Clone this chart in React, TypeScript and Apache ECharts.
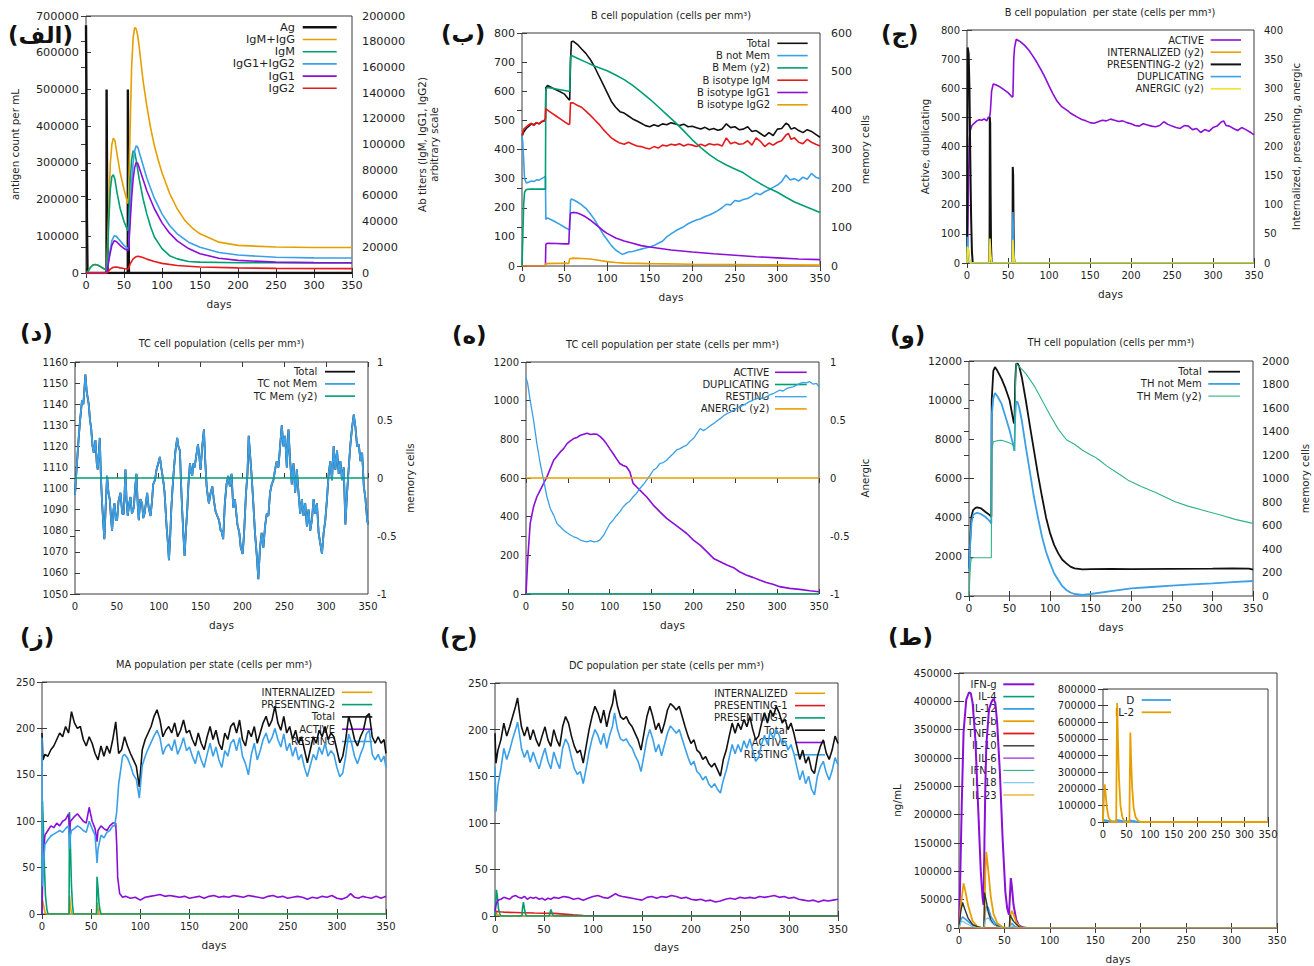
import React, { useEffect, useRef } from "react";
import * as echarts from "echarts";

type Pt = [number, number];

const FONT = "DejaVu Sans";
const AXIS = "#3a3a3a";
const TXT = "#1e1e1e";
const COL = {
  black: "#111111",
  purple: "#8a0fd8",
  green: "#009e73",
  mint: "#2fb387",
  blue: "#3aa0e8",
  lightblue: "#6cc3f0",
  orange: "#e69f00",
  yellow: "#eee232",
  red: "#e41a1c",
  dark: "#333333",
};

// ---------------- Panel A (الف) : antigen & antibodies ----------------
const agA: Pt[] = [[0, 675000], [0.6, 480000], [1.2, 150000], [2, 0], [27, 0], [27.1, 500000], [27.8, 200000], [28.5, 0], [55, 0], [55.1, 500000], [55.8, 200000], [56.5, 0], [350, 0]];
const igmIggA: Pt[] = [[0, 0], [3, 1500], [6, 4500], [9, 6200], [12, 6600], [15, 6200], [19, 5000], [23, 3500], [27, 2500], [28, 15000], [30, 50000], [32, 85000], [34, 100000], [36, 105000], [38, 103000], [41, 92000], [45, 78000], [50, 65000], [55, 54000], [56, 60000], [58, 110000], [60, 160000], [62, 183000], [64, 191000], [66, 190000], [68, 185000], [70, 176000], [75, 150000], [80, 130000], [85, 113000], [90, 99000], [95, 88000], [100, 78000], [110, 62000], [120, 50000], [130, 41000], [140, 35000], [150, 30500], [175, 24000], [200, 21500], [250, 20200], [300, 19900], [350, 19800]];
const igmA: Pt[] = [[0, 0], [3, 1500], [6, 4500], [9, 6200], [12, 6600], [15, 6200], [19, 5000], [23, 3500], [27, 2500], [28, 10000], [30, 40000], [32, 65000], [34, 75000], [36, 76500], [38, 73000], [41, 62000], [45, 50000], [50, 40000], [55, 33000], [56, 38000], [58, 70000], [60, 88000], [62, 95000], [64, 94000], [66, 88000], [70, 73000], [75, 58000], [80, 46000], [85, 36000], [90, 28000], [100, 19000], [110, 13500], [120, 11000], [135, 9000], [150, 8500], [200, 8000], [350, 7900]];
const igg12A: Pt[] = [[0, 0], [27, 0], [28, 3000], [31, 15000], [34, 25000], [37, 29000], [40, 28500], [45, 25000], [50, 21500], [55, 19000], [56, 20000], [58, 45000], [60, 70000], [62, 86000], [64, 95000], [66, 99000], [68, 98000], [70, 94000], [75, 84000], [80, 74000], [90, 58000], [100, 46000], [110, 37000], [120, 30500], [135, 24000], [150, 20000], [175, 16000], [200, 14000], [250, 12200], [300, 11800], [350, 11700]];
const igg1A: Pt[] = [[0, 0], [27, 0], [28, 2500], [31, 13000], [34, 21500], [37, 25000], [40, 24500], [45, 21500], [50, 19000], [55, 17500], [56, 18000], [58, 38000], [60, 58000], [62, 73000], [64, 82000], [66, 86000], [68, 85500], [70, 82000], [75, 73000], [80, 64000], [90, 50000], [100, 39000], [110, 31000], [120, 25000], [135, 19000], [150, 15000], [175, 11500], [200, 9800], [250, 8500], [300, 8100], [350, 8000]];
const igg2A: Pt[] = [[0, 0], [27, 0], [28, 500], [32, 3000], [36, 4500], [40, 4600], [45, 4000], [50, 3500], [55, 3100], [56, 3300], [58, 7000], [62, 11000], [66, 12800], [70, 12900], [75, 12000], [80, 10800], [90, 9000], [100, 7500], [120, 5800], [150, 4700], [200, 4000], [250, 3600], [350, 3400]];

// ---------------- Panel B (ب) : B cell population ----------------
const totalB: Pt[] = [[0, 445], [2, 460], [5, 472], [8, 480], [11, 488], [14, 485], [17, 492], [20, 488], [23, 495], [26, 498], [27.5, 505], [28, 612], [30, 620], [35, 612], [40, 605], [45, 598], [50, 590], [55, 572], [56, 570], [57, 700], [58, 770], [60, 772], [63, 765], [66, 758], [70, 745], [75, 730], [80, 710], [85, 685], [90, 655], [95, 625], [100, 595], [105, 565], [110, 545], [115, 530], [120, 525], [125, 515], [130, 505], [135, 498], [140, 490], [145, 482], [150, 478], [155, 485], [160, 480], [165, 488], [170, 485], [175, 492], [180, 488], [185, 482], [190, 487], [195, 478], [200, 480], [205, 475], [210, 470], [215, 476], [220, 468], [225, 472], [230, 466], [235, 470], [240, 488], [245, 475], [250, 478], [255, 468], [260, 470], [265, 478], [270, 462], [275, 465], [280, 455], [285, 445], [290, 458], [295, 448], [300, 470], [305, 472], [310, 490], [313, 485], [316, 470], [320, 475], [325, 465], [330, 458], [335, 468], [340, 462], [345, 452], [350, 442]];
const notMemB: Pt[] = [[0, 450], [1, 420], [2, 360], [3, 300], [5, 285], [8, 288], [11, 292], [14, 290], [17, 296], [20, 295], [23, 300], [26, 305], [27.5, 308], [28, 160], [30, 165], [35, 158], [40, 150], [45, 142], [50, 133], [55, 125], [56, 125], [57, 225], [58, 230], [62, 225], [66, 218], [70, 210], [75, 198], [80, 180], [85, 160], [90, 135], [95, 110], [100, 90], [105, 70], [110, 55], [115, 45], [118, 40], [120, 42], [125, 48], [130, 50], [135, 54], [140, 58], [145, 62], [150, 65], [155, 70], [160, 78], [165, 85], [170, 100], [175, 110], [180, 120], [185, 128], [190, 135], [195, 145], [200, 152], [205, 158], [210, 162], [215, 170], [220, 175], [225, 182], [230, 190], [235, 200], [240, 212], [245, 210], [250, 225], [255, 222], [260, 228], [265, 232], [270, 240], [275, 250], [280, 245], [285, 255], [290, 262], [295, 270], [300, 278], [305, 290], [310, 312], [315, 295], [320, 300], [325, 292], [330, 305], [335, 298], [340, 318], [345, 305], [350, 300]];
const memB: Pt[] = [[0, 0], [1, 80], [2, 160], [3, 190], [5, 197], [10, 198], [20, 198], [27.5, 198], [28, 455], [30, 460], [40, 456], [50, 452], [55, 450], [56, 450], [57, 540], [58, 542], [65, 535], [75, 525], [85, 515], [100, 503], [110, 492], [120, 480], [130, 465], [140, 448], [150, 430], [160, 410], [170, 390], [180, 370], [190, 348], [200, 325], [210, 305], [220, 287], [230, 272], [240, 260], [250, 250], [260, 240], [270, 225], [280, 212], [290, 200], [300, 190], [310, 177], [320, 165], [330, 156], [340, 147], [350, 138]];
const igmB: Pt[] = [[0, 448], [2, 470], [5, 478], [8, 485], [11, 490], [14, 482], [17, 493], [20, 488], [23, 496], [26, 500], [27.5, 505], [28, 540], [30, 535], [35, 525], [40, 515], [45, 505], [50, 495], [55, 486], [56, 488], [57, 560], [60, 560], [63, 555], [66, 550], [70, 545], [75, 532], [80, 518], [85, 503], [90, 488], [95, 470], [100, 455], [105, 440], [110, 430], [115, 422], [120, 418], [125, 425], [130, 418], [135, 412], [140, 410], [145, 405], [150, 402], [155, 410], [160, 405], [165, 415], [170, 412], [175, 418], [180, 415], [185, 420], [190, 412], [195, 418], [200, 415], [205, 410], [210, 418], [215, 412], [220, 420], [225, 416], [230, 418], [235, 412], [240, 440], [245, 420], [250, 425], [255, 418], [260, 420], [265, 430], [270, 415], [275, 440], [280, 428], [285, 410], [290, 422], [295, 415], [300, 425], [305, 430], [310, 450], [313, 455], [316, 435], [320, 440], [325, 425], [330, 420], [335, 435], [340, 425], [345, 418], [350, 412]];
const igg1B: Pt[] = [[0, 0], [27.5, 0], [28, 75], [30, 78], [40, 77], [50, 76], [55, 76], [56, 150], [57, 182], [60, 184], [65, 182], [70, 176], [75, 168], [80, 158], [85, 146], [90, 134], [95, 122], [100, 112], [110, 96], [120, 86], [130, 78], [140, 70], [150, 65], [175, 55], [200, 48], [225, 42], [250, 37], [275, 32], [300, 28], [325, 24], [350, 22]];
const igg2B: Pt[] = [[0, 0], [27.5, 0], [28, 8], [40, 9], [55, 9], [56, 25], [60, 27], [70, 26], [80, 24], [90, 20], [100, 15], [110, 12], [120, 10], [150, 8], [200, 6], [250, 5], [300, 4], [350, 3]];

// ---------------- Panel C (ج) : B cells per state ----------------
const activeC: Pt[] = [[0, 0], [1, 100], [2, 300], [3, 430], [4, 455], [6, 472], [9, 480], [12, 488], [15, 492], [18, 490], [21, 495], [24, 488], [26, 500], [27.5, 500], [28.5, 520], [30, 590], [32, 615], [35, 612], [40, 605], [45, 595], [50, 585], [55, 570], [56, 572], [57, 700], [58, 740], [60, 768], [65, 760], [70, 748], [75, 732], [80, 712], [85, 690], [90, 665], [95, 638], [100, 608], [105, 580], [110, 555], [115, 538], [120, 528], [123, 522], [126, 515], [130, 508], [135, 500], [140, 493], [145, 488], [150, 482], [155, 480], [160, 485], [165, 490], [170, 488], [175, 494], [180, 490], [185, 486], [190, 488], [195, 482], [200, 478], [205, 472], [210, 470], [215, 478], [220, 474], [225, 470], [230, 468], [235, 472], [240, 485], [245, 476], [250, 470], [255, 465], [260, 462], [265, 472], [270, 470], [275, 458], [280, 462], [285, 448], [290, 458], [295, 452], [300, 465], [305, 470], [310, 484], [313, 488], [316, 472], [320, 470], [325, 462], [330, 455], [335, 465], [340, 458], [345, 450], [350, 440]];
const internalizedC: Pt[] = [[0, 0], [0.5, 30], [1.5, 25], [3, 5], [4, 0], [27.5, 0], [28, 38], [29, 15], [30, 0], [55.5, 0], [56, 40], [57, 10], [58, 0], [350, 0]];
const presentingC: Pt[] = [[0, 0], [0.8, 370], [2, 360], [3, 300], [4, 180], [5, 80], [6, 20], [7, 0], [27.5, 0], [27.8, 250], [28.3, 240], [28.8, 120], [29.3, 30], [30, 0], [55.5, 0], [55.8, 165], [56.3, 150], [56.8, 60], [57.3, 10], [58, 0], [350, 0]];
const duplicatingC: Pt[] = [[0, 0], [0.5, 90], [1.5, 40], [3, 0], [55.5, 0], [56, 175], [56.8, 60], [57.5, 0], [350, 0]];
const anergicC: Pt[] = [[0, 0], [0.5, 28], [1.5, 25], [3, 5], [4, 0], [27.5, 0], [28, 42], [29, 15], [30, 0], [55.5, 0], [56, 40], [57, 12], [58, 0], [350, 0]];

// ---------------- Panel D (د) : TC cell population ----------------
const tcNotMemD: Pt[] = [[0, 1097], [2, 1110], [4.4, 1124], [6, 1132], [8.4, 1142], [10, 1140], [12.4, 1154], [14, 1146], [16.4, 1140], [18, 1132], [19.2, 1129], [21, 1120], [22.4, 1117], [24.4, 1123], [26, 1112], [27.2, 1109], [29.6, 1124], [31, 1105], [32.4, 1093], [34, 1082], [35.1, 1076], [36.5, 1090], [38.3, 1106], [40, 1098], [41.5, 1095], [43, 1086], [44.3, 1080], [46, 1090], [47.1, 1093], [48.8, 1085], [50.3, 1085], [52, 1094], [54.3, 1098], [56.5, 1088], [58.3, 1088], [60.3, 1109], [61.5, 1095], [63, 1087], [64.8, 1093], [66.3, 1096], [68, 1088], [70.3, 1091], [71.8, 1100], [73.4, 1107], [75, 1092], [76.2, 1085], [78, 1095], [80.2, 1093], [81.5, 1086], [83, 1088], [85, 1094], [86.2, 1098], [88, 1091], [90.2, 1087], [92, 1094], [93.4, 1102], [95.5, 1104], [97.4, 1109], [99.5, 1112], [101.4, 1115], [103, 1110], [104.2, 1107], [106, 1102], [107, 1098], [109.4, 1082], [111, 1074], [112.2, 1066], [113.5, 1075], [115, 1090], [116.5, 1100], [118.1, 1109], [120, 1118], [122.1, 1124], [123.5, 1120], [125.3, 1118], [126.7, 1102], [128, 1090], [129.5, 1078], [130.9, 1068], [132.5, 1080], [134.1, 1090], [135.5, 1102], [137.3, 1112], [138.7, 1108], [140, 1106], [141.5, 1112], [142.9, 1110], [145, 1116], [146.9, 1121], [148.5, 1115], [150, 1109], [152, 1120], [154, 1128], [155.7, 1112], [157.3, 1101], [158.7, 1096], [160, 1093], [162, 1098], [164, 1101], [166, 1094], [168, 1089], [170, 1087], [172, 1085], [174, 1080], [175, 1080], [177, 1076], [179, 1093], [181, 1102], [183, 1106], [185, 1101], [187, 1107], [189, 1091], [191, 1095], [194, 1083], [196.3, 1079], [198, 1072], [200.3, 1069], [202, 1079], [204.3, 1098], [206, 1107], [207.5, 1125], [209, 1117], [211, 1106], [213, 1093], [215, 1079], [217, 1069], [219, 1057], [221, 1072], [223, 1079], [225, 1072], [227, 1082], [229, 1088], [231, 1087], [233, 1098], [235, 1102], [237, 1104], [239, 1109], [241, 1113], [243, 1110], [245, 1120], [247, 1130], [249, 1120], [251, 1125], [253, 1110], [255, 1128], [257, 1113], [259, 1102], [261, 1112], [263, 1098], [265, 1109], [267, 1098], [269, 1088], [271, 1095], [273, 1087], [275, 1093], [277, 1082], [279, 1090], [281, 1080], [283, 1085], [285, 1095], [287, 1088], [289, 1093], [291, 1079], [293, 1074], [295, 1069], [297, 1079], [299, 1085], [301, 1095], [303, 1107], [305, 1113], [307, 1104], [309, 1120], [311, 1109], [313, 1118], [315, 1107], [317, 1113], [319, 1104], [321, 1110], [323, 1083], [325, 1098], [327, 1110], [329, 1121], [331, 1129], [333, 1135], [335, 1129], [337, 1120], [339, 1121], [341, 1113], [343, 1117], [345, 1101], [347, 1095], [349, 1085], [350, 1083]];
const tcMemD: Pt[] = [[0, 0], [350, 0]];

// ---------------- Panel E (ه) : TC cells per state ----------------
const activeE: Pt[] = [[0, 0], [2, 175], [5, 365], [9, 451], [13, 503], [17, 537], [25, 606], [33, 692], [41, 735], [45, 752], [49, 778], [53, 792], [57, 804], [61, 810], [65, 821], [70, 828], [73, 832], [77, 825], [81, 828], [85, 826], [89, 813], [92, 800], [96, 778], [100, 752], [104, 727], [108, 700], [112, 675], [116, 665], [120, 658], [124, 632], [128, 572], [132, 555], [136, 537], [144, 503], [152, 460], [160, 425], [168, 391], [176, 365], [184, 339], [192, 313], [200, 279], [208, 253], [216, 219], [224, 184], [232, 167], [240, 150], [248, 136], [255, 115], [263, 98], [271, 86], [279, 72], [287, 60], [295, 50], [303, 38], [315, 29], [327, 24], [339, 17], [350, 12]];
const duplicatingE: Pt[] = [[0, 0], [350, 0]];
const restingE: Pt[] = [[0, 1122], [2, 1088], [5, 1002], [9, 899], [13, 778], [17, 675], [21, 589], [25, 503], [29, 442], [33, 408], [37, 365], [41, 348], [45, 330], [49, 317], [53, 305], [57, 296], [61, 290], [65, 279], [69, 274], [73, 270], [77, 276], [81, 270], [85, 272], [88, 279], [93, 305], [97, 339], [100, 362], [104, 382], [108, 405], [112, 425], [116, 450], [120, 468], [124, 480], [128, 503], [132, 520], [136, 546], [140, 565], [144, 589], [148, 612], [152, 640], [156, 652], [160, 675], [164, 680], [168, 692], [172, 710], [176, 727], [180, 745], [184, 752], [188, 762], [192, 770], [196, 790], [200, 804], [204, 830], [208, 856], [212, 845], [216, 856], [220, 870], [224, 881], [228, 895], [232, 907], [236, 922], [240, 933], [244, 940], [248, 950], [252, 962], [255, 968], [259, 975], [263, 985], [267, 995], [271, 1002], [275, 1010], [279, 1016], [283, 1010], [287, 1019], [291, 1030], [295, 1036], [299, 1045], [303, 1054], [307, 1050], [311, 1062], [315, 1068], [319, 1071], [323, 1080], [327, 1088], [331, 1095], [335, 1092], [339, 1098], [343, 1085], [347, 1090], [350, 1071]];
const anergicE: Pt[] = [[0, 0], [350, 0]];

// ---------------- Panel F (و) : TH cell population ----------------
const totalF: Pt[] = [[0, 1400], [1, 2500], [3, 4046], [5, 4386], [8, 4500], [10, 4522], [15, 4471], [20, 4300], [25, 4150], [27.5, 4046], [28, 10000], [30, 11500], [32, 11690], [35, 11500], [40, 11100], [45, 10600], [50, 9995], [55, 8890], [56, 8800], [57, 11000], [58, 11850], [60, 11865], [62, 11700], [65, 11186], [70, 9995], [75, 8700], [80, 7445], [85, 6200], [90, 5066], [95, 4000], [100, 3196], [105, 2600], [110, 2176], [115, 1850], [120, 1666], [125, 1500], [130, 1411], [140, 1360], [150, 1370], [175, 1380], [200, 1375], [250, 1390], [300, 1400], [325, 1410], [345, 1400], [350, 1350]];
const notMemF: Pt[] = [[0, 1300], [1, 2300], [3, 3706], [5, 4131], [8, 4220], [10, 4250], [15, 4180], [20, 4046], [25, 3850], [27.5, 3706], [28, 9200], [30, 10100], [32, 10370], [35, 10200], [40, 9826], [45, 9150], [50, 8466], [55, 7616], [56, 7400], [57, 9200], [58, 9911], [60, 9900], [62, 9600], [65, 8976], [70, 7616], [75, 6350], [80, 5066], [85, 4000], [90, 3026], [95, 2250], [100, 1666], [105, 1150], [110, 816], [115, 500], [120, 306], [125, 180], [130, 102], [140, 51], [150, 102], [175, 250], [200, 391], [225, 460], [250, 527], [275, 590], [300, 646], [325, 710], [350, 765]];
const memF: Pt[] = [[0, 0], [1, 150], [2, 280], [3, 320], [5, 326], [27.5, 326], [28, 1241], [30, 1312], [35, 1322], [40, 1326], [45, 1315], [50, 1303], [55, 1283], [56, 1241], [57, 1700], [58, 1978], [60, 1963], [65, 1930], [70, 1893], [80, 1793], [90, 1666], [100, 1538], [110, 1420], [120, 1330], [130, 1292], [140, 1240], [150, 1200], [155, 1184], [160, 1160], [170, 1105], [180, 1060], [190, 1015], [196, 986], [213, 929], [230, 880], [254, 802], [270, 765], [295, 717], [310, 690], [328, 652], [350, 618]];

// ---------------- Panel G (ز) : MA per state ----------------
const internalizedG: Pt[] = [[0, 0], [0.5, 15], [1.5, 10], [3, 2], [4, 0], [27.5, 0], [28, 20], [29, 8], [30, 0], [55.5, 0], [56, 12], [57, 6], [58, 0], [350, 0]];
const presentingG: Pt[] = [[0, 0], [0.5, 122], [1.5, 90], [2.5, 50], [3.5, 20], [5, 5], [6, 0], [27.5, 0], [28, 110], [29, 70], [30, 30], [31, 10], [32, 0], [55.5, 0], [56, 40], [57, 28], [58, 12], [59, 4], [60, 0], [350, 0]];
const totalG: Pt[] = [[0, 195], [1, 166], [3, 172], [6, 170], [9, 177], [12, 181], [15, 188], [18, 195], [21, 191], [24, 202], [27, 195], [30, 218], [33, 206], [36, 200], [39, 202], [42, 188], [45, 181], [48, 191], [51, 184], [54, 173], [57, 166], [60, 181], [63, 170], [66, 181], [69, 173], [72, 188], [75, 207], [78, 173], [81, 177], [84, 191], [87, 181], [90, 173], [93, 166], [96, 159], [99, 137], [102, 177], [105, 188], [108, 195], [111, 202], [114, 213], [117, 220], [120, 209], [123, 191], [126, 198], [129, 202], [132, 195], [135, 206], [138, 191], [141, 198], [144, 209], [147, 195], [150, 198], [153, 188], [156, 181], [159, 195], [162, 184], [165, 177], [168, 191], [171, 202], [174, 188], [177, 198], [180, 184], [183, 177], [186, 195], [189, 188], [192, 202], [195, 206], [198, 195], [201, 209], [204, 188], [207, 181], [210, 198], [213, 191], [216, 202], [219, 184], [222, 195], [225, 206], [228, 213], [231, 202], [234, 209], [237, 224], [240, 206], [243, 198], [246, 213], [249, 195], [252, 202], [255, 188], [258, 198], [261, 184], [264, 191], [267, 177], [270, 163], [273, 177], [276, 191], [279, 184], [282, 198], [285, 191], [288, 202], [291, 188], [294, 195], [297, 191], [300, 177], [303, 163], [306, 170], [309, 188], [312, 213], [315, 202], [318, 188], [321, 181], [324, 191], [327, 198], [330, 213], [333, 216], [336, 191], [339, 184], [342, 191], [345, 184], [348, 188], [350, 173]];
const activeG: Pt[] = [[0, 0], [1, 60], [3, 85], [6, 90], [9, 95], [12, 93], [15, 98], [18, 95], [21, 100], [24, 102], [27, 108], [28, 88], [29, 100], [33, 105], [36, 108], [39, 104], [42, 100], [45, 98], [48, 115], [51, 100], [54, 92], [56, 78], [57, 90], [60, 95], [63, 92], [66, 90], [69, 95], [72, 98], [75, 98], [76, 75], [77, 40], [79, 22], [82, 18], [85, 19], [90, 17], [95, 18], [100, 15], [105, 18], [110, 19], [115, 20], [120, 21], [125, 19], [130, 20], [135, 19], [140, 18], [145, 19], [150, 17], [155, 18], [160, 19], [165, 17], [170, 19], [175, 20], [180, 18], [185, 19], [190, 18], [195, 20], [200, 19], [205, 18], [210, 20], [215, 19], [220, 18], [225, 17], [230, 19], [235, 20], [240, 18], [245, 19], [250, 17], [255, 18], [260, 19], [265, 18], [270, 16], [275, 18], [280, 17], [285, 19], [290, 18], [295, 20], [300, 17], [305, 16], [310, 18], [314, 22], [318, 18], [322, 17], [326, 19], [330, 18], [335, 17], [340, 19], [345, 17], [350, 19]];
const restingG: Pt[] = [[0, 190], [0.5, 30], [1.5, 55], [3, 75], [6, 80], [9, 84], [12, 86], [15, 88], [18, 90], [21, 88], [24, 92], [27, 95], [28, 70], [29, 85], [30, 90], [33, 92], [36, 95], [39, 93], [42, 90], [45, 88], [48, 100], [51, 92], [54, 85], [56, 55], [57, 70], [60, 85], [63, 82], [66, 88], [69, 90], [72, 95], [74, 95], [76, 110], [78, 140], [80, 155], [82, 170], [84, 172], [87, 168], [90, 160], [93, 150], [96, 145], [99, 125], [102, 160], [105, 170], [108, 178], [111, 185], [114, 192], [117, 198], [120, 190], [123, 172], [126, 180], [129, 183], [132, 176], [135, 188], [138, 172], [141, 180], [144, 190], [147, 176], [150, 180], [153, 170], [156, 162], [159, 176], [162, 166], [165, 158], [168, 172], [171, 184], [174, 170], [177, 180], [180, 166], [183, 158], [186, 176], [189, 170], [192, 184], [195, 188], [198, 176], [201, 190], [204, 170], [207, 162], [210, 150], [213, 172], [216, 184], [219, 166], [222, 176], [225, 188], [228, 195], [231, 184], [234, 190], [237, 200], [240, 188], [243, 180], [246, 194], [249, 176], [252, 184], [255, 170], [258, 180], [261, 166], [264, 172], [267, 158], [270, 148], [273, 160], [276, 172], [279, 166], [282, 180], [285, 172], [288, 184], [291, 170], [294, 176], [297, 172], [300, 158], [303, 148], [306, 152], [309, 170], [312, 194], [315, 184], [318, 170], [321, 162], [324, 172], [327, 180], [330, 194], [333, 198], [336, 172], [339, 166], [342, 172], [345, 164], [348, 170], [350, 158]];

// ---------------- Panel H (ح) : DC per state ----------------
const internalizedH: Pt[] = [[0, 0], [0.5, 3], [2, 2], [4, 0.5], [6, 0], [350, 0]];
const presenting1H: Pt[] = [[0, 0], [1, 5], [5, 4.5], [10, 4], [20, 3.8], [30, 3.5], [40, 3.2], [50, 3], [60, 2.8], [70, 2], [80, 1.2], [90, 0.6], [100, 0.2], [110, 0], [350, 0]];
const presenting2H: Pt[] = [[0, 0], [0.5, 10], [1.5, 28], [2.5, 20], [3.5, 8], [5, 2], [6, 0], [27.5, 0], [28, 8], [29, 15], [30, 8], [31, 3], [32, 0], [55.5, 0], [56, 3], [57, 7], [58, 4], [59, 1], [60, 0], [350, 0]];
const totalH: Pt[] = [[0, 196], [1, 164], [3, 178], [6, 189], [9, 207], [12, 193], [15, 203], [18, 214], [21, 225], [23, 234], [25, 218], [27, 203], [30, 193], [33, 203], [36, 189], [39, 200], [42, 189], [45, 182], [48, 193], [51, 203], [54, 189], [57, 182], [60, 200], [63, 189], [66, 182], [69, 203], [72, 214], [75, 207], [78, 193], [81, 182], [84, 175], [87, 178], [90, 164], [93, 182], [96, 200], [99, 214], [102, 225], [105, 218], [108, 207], [111, 221], [114, 203], [117, 218], [120, 228], [122, 243], [125, 225], [128, 214], [131, 211], [134, 214], [137, 207], [140, 203], [143, 196], [146, 189], [149, 178], [152, 196], [155, 214], [158, 225], [161, 214], [164, 200], [167, 207], [170, 196], [173, 207], [176, 221], [179, 228], [182, 225], [185, 221], [188, 225], [191, 214], [194, 203], [197, 193], [200, 185], [203, 189], [206, 178], [209, 175], [212, 168], [215, 171], [218, 164], [221, 160], [224, 164], [227, 157], [230, 150], [233, 168], [236, 178], [239, 193], [242, 207], [245, 196], [248, 207], [251, 200], [254, 211], [257, 203], [260, 214], [263, 200], [266, 189], [269, 193], [272, 207], [275, 218], [278, 207], [281, 221], [284, 214], [287, 225], [290, 218], [293, 207], [296, 211], [299, 200], [302, 207], [305, 196], [308, 182], [311, 168], [314, 178], [317, 164], [320, 171], [323, 157], [326, 153], [329, 171], [332, 182], [335, 189], [338, 175], [341, 168], [344, 178], [347, 193], [350, 185]];
const activeH: Pt[] = [[0, 5], [1, 12], [3, 17], [6, 18], [9, 20], [12, 19], [15, 18], [18, 21], [21, 22], [24, 20], [27, 19], [30, 21], [33, 18], [36, 20], [39, 19], [42, 20], [45, 18], [48, 19], [51, 17], [54, 19], [57, 18], [60, 20], [65, 19], [70, 21], [75, 20], [80, 18], [85, 19], [90, 17], [95, 19], [100, 21], [105, 22], [110, 20], [115, 19], [120, 22], [123, 24], [126, 22], [130, 21], [135, 20], [140, 19], [145, 18], [150, 17], [155, 20], [160, 21], [165, 19], [170, 21], [175, 20], [180, 22], [185, 21], [190, 19], [195, 20], [200, 18], [205, 17], [210, 18], [215, 16], [220, 17], [225, 15], [230, 16], [235, 18], [240, 19], [245, 18], [250, 20], [255, 19], [260, 20], [265, 19], [270, 21], [275, 20], [280, 21], [285, 22], [290, 20], [295, 21], [300, 19], [305, 20], [310, 18], [315, 17], [320, 16], [325, 17], [330, 15], [335, 17], [340, 16], [345, 17], [350, 18]];
const restingH: Pt[] = [[0, 160], [1, 112], [3, 140], [6, 158], [9, 180], [12, 168], [15, 178], [18, 190], [21, 200], [23, 208], [25, 195], [27, 180], [30, 170], [33, 178], [36, 165], [39, 176], [42, 166], [45, 158], [48, 170], [51, 180], [54, 166], [57, 158], [60, 176], [63, 166], [66, 158], [69, 180], [72, 190], [75, 184], [78, 170], [81, 158], [84, 152], [87, 155], [90, 142], [93, 158], [96, 176], [99, 190], [102, 200], [105, 194], [108, 184], [111, 196], [114, 180], [117, 194], [120, 204], [122, 218], [125, 200], [128, 190], [131, 188], [134, 190], [137, 184], [140, 180], [143, 172], [146, 166], [149, 155], [152, 172], [155, 190], [158, 200], [161, 190], [164, 176], [167, 184], [170, 172], [173, 184], [176, 196], [179, 204], [182, 200], [185, 196], [188, 200], [191, 190], [194, 180], [197, 170], [200, 162], [203, 166], [206, 155], [209, 152], [212, 146], [215, 150], [218, 142], [221, 138], [224, 142], [227, 136], [230, 132], [233, 146], [236, 156], [239, 170], [242, 184], [245, 174], [248, 184], [251, 176], [254, 188], [257, 180], [260, 190], [263, 178], [266, 166], [269, 170], [272, 184], [275, 194], [278, 184], [281, 198], [284, 190], [287, 200], [290, 194], [293, 184], [296, 188], [299, 178], [302, 184], [305, 174], [308, 160], [311, 146], [314, 156], [317, 142], [320, 150], [323, 136], [326, 130], [329, 150], [332, 160], [335, 166], [338, 154], [341, 146], [344, 156], [347, 170], [350, 162]];

// ---------------- Panel I (ط) : cytokines ----------------
const ifngI: Pt[] = [[0, 0], [1, 60000], [3, 216000], [5, 345000], [8, 403000], [11, 416000], [13, 414000], [15, 397000], [18, 333000], [21, 216000], [24, 99000], [26, 52600], [27, 41000], [28, 150000], [29, 250000], [30, 320000], [33, 385700], [36, 400000], [38, 404400], [40, 397000], [42, 362000], [45, 274700], [48, 157800], [51, 64300], [53, 35000], [55, 23400], [56, 55000], [57, 88000], [58, 76000], [60, 41000], [63, 14600], [66, 4700], [70, 1200], [75, 0], [350, 0]];
const il4I: Pt[] = [[0, 0], [350, 0]];
const il12I: Pt[] = [[0, 0], [2, 15000], [4, 19300], [6, 17000], [10, 11700], [15, 5000], [20, 1500], [25, 0], [27.5, 0], [28, 20000], [30, 38000], [32, 36000], [35, 20400], [40, 8000], [45, 2000], [50, 0], [55.5, 0], [56, 6000], [58, 8000], [62, 2000], [66, 0], [350, 0]];
const tgfbI: Pt[] = [[0, 0], [2, 40000], [5, 78900], [7, 65000], [10, 40000], [15, 12000], [20, 3000], [26, 0], [28, 0], [29, 100000], [30, 134400], [32, 105000], [35, 55000], [38, 25000], [42, 9000], [48, 1500], [54, 0], [56, 0], [57, 25000], [58, 30400], [60, 24000], [63, 10000], [67, 2000], [72, 0], [350, 0]];
const tnfaI: Pt[] = [[0, 0], [350, 0]];
const il10I: Pt[] = [[0, 0], [2, 30000], [4, 45000], [6, 35000], [10, 17500], [15, 6000], [20, 2300], [25, 0], [27.5, 0], [28, 62500], [30, 48000], [32, 29200], [35, 14000], [38, 7000], [45, 1000], [50, 0], [55.5, 0], [56, 23400], [60, 11700], [66, 2000], [72, 0], [350, 0]];
const il6I: Pt[] = [[0, 0], [350, 0]];
const ifnbI: Pt[] = [[0, 0], [350, 0]];
const il18I: Pt[] = [[0, 0], [2, 10000], [4, 12000], [8, 8000], [14, 3000], [20, 500], [25, 0], [27.5, 0], [29, 15000], [32, 18000], [36, 9000], [42, 2000], [48, 0], [55.5, 0], [57, 4000], [62, 1000], [66, 0], [350, 0]];
const il23I: Pt[] = [[0, 0], [350, 0]];
const dInset: Pt[] = [[0, 12000], [10, 8000], [20, 5000], [27.5, 4000], [29, 12000], [40, 6000], [55.5, 3000], [57, 10000], [70, 3000], [80, 0], [350, 0]];
const il2Inset: Pt[] = [[0, 0], [1.5, 120000], [3.5, 227000], [5, 190000], [8, 90000], [12, 25000], [18, 0], [28, 0], [29, 400000], [30, 715000], [31.5, 520000], [34, 260000], [37, 100000], [41, 30000], [46, 0], [56, 0], [57, 300000], [58, 538000], [59.5, 380000], [62, 200000], [65, 85000], [69, 30000], [75, 6000], [80, 0], [350, 0]];

// ---------------- layout definitions ----------------
interface S { name: string; data: Pt[]; color: string; w?: number; y2?: boolean; }
interface Ax { min: number; max: number; interval: number; name?: string; gap?: number; margin?: number; }
interface Panel {
  box: [number, number, number, number];
  tick: number;
  xName?: string;
  yL: Ax;
  yR?: Ax;
  title?: [string, number, number];
  label?: [string, number, number];
  legend: { x: number; y: number; dy: number; l1: number; l2: number; size: number };
  series: S[];
}

const PANELS: Panel[] = [
  {
    box: [86, 16, 266, 257], tick: 11.3, xName: "days",
    yL: { min: 0, max: 700000, interval: 100000, name: "antigen count per mL", gap: 65, margin: 7 },
    yR: { min: 0, max: 200000, interval: 20000, name: "Ab titers (IgM, IgG1, IgG2)\narbitrary scale", gap: 64, margin: 10 },
    label: ["(الف)", 8, 24],
    legend: { x: 295, y: 27.3, dy: 12.2, l1: 302.7, l2: 336.7, size: 11.3 },
    series: [
      { name: "Ag", data: agA, color: COL.black, w: 2.4 },
      { name: "IgM+IgG", data: igmIggA, color: COL.orange, y2: true },
      { name: "IgM", data: igmA, color: COL.green, y2: true },
      { name: "IgG1+IgG2", data: igg12A, color: COL.blue, y2: true },
      { name: "IgG1", data: igg1A, color: COL.purple, y2: true },
      { name: "IgG2", data: igg2A, color: COL.red, y2: true },
    ],
  },
  {
    box: [522, 33, 298, 233], tick: 11, xName: "days",
    yL: { min: 0, max: 800, interval: 100, margin: 7 },
    yR: { min: 0, max: 600, interval: 100, name: "memory cells", gap: 39, margin: 11 },
    title: ["B cell population (cells per mm³)", 671, 15],
    label: ["(ب)", 441, 23],
    legend: { x: 770, y: 43.3, dy: 12.3, l1: 777.3, l2: 807.7, size: 10 },
    series: [
      { name: "Total", data: totalB, color: COL.black },
      { name: "B not Mem", data: notMemB, color: COL.blue },
      { name: "B Mem (y2)", data: memB, color: COL.green, y2: true },
      { name: "B isotype IgM", data: igmB, color: COL.red },
      { name: "B isotype IgG1", data: igg1B, color: COL.purple },
      { name: "B isotype IgG2", data: igg2B, color: COL.orange },
    ],
  },
  {
    box: [967, 30, 287, 233], tick: 10, xName: "days",
    yL: { min: 0, max: 800, interval: 100, name: "Active, duplicating", gap: 36, margin: 7 },
    yR: { min: 0, max: 400, interval: 50, name: "Internalized, presenting, anergic", gap: 36, margin: 10 },
    title: ["B cell population  per state (cells per mm³)", 1110, 12],
    label: ["(ج)", 881, 23],
    legend: { x: 1204, y: 40, dy: 12.2, l1: 1210.7, l2: 1241, size: 10 },
    series: [
      { name: "ACTIVE", data: activeC, color: COL.purple },
      { name: "INTERNALIZED (y2)", data: internalizedC, color: COL.orange, y2: true },
      { name: "PRESENTING-2 (y2)", data: presentingC, color: COL.black, y2: true, w: 2 },
      { name: "DUPLICATING", data: duplicatingC, color: COL.blue },
      { name: "ANERGIC (y2)", data: anergicC, color: COL.yellow, y2: true },
    ],
  },
  {
    box: [75, 362, 293, 232], tick: 10, xName: "days",
    yL: { min: 1050, max: 1160, interval: 10, margin: 7 },
    yR: { min: -1, max: 1, interval: 0.5, name: "memory cells", gap: 36, margin: 9 },
    title: ["TC cell population (cells per mm³)", 221.5, 343],
    label: ["(د)", 20, 322],
    legend: { x: 317.3, y: 371.7, dy: 12.2, l1: 325, l2: 355, size: 10 },
    series: [
      { name: "Total", data: tcNotMemD, color: COL.black, w: 1.8 },
      { name: "TC not Mem", data: tcNotMemD, color: COL.blue, w: 1.8 },
      { name: "TC Mem (y2)", data: tcMemD, color: COL.green, y2: true },
    ],
  },
  {
    box: [526, 362, 293, 232], tick: 10, xName: "days",
    yL: { min: 0, max: 1200, interval: 200, margin: 7 },
    yR: { min: -1, max: 1, interval: 0.5, name: "Anergic", gap: 40, margin: 11 },
    title: ["TC cell population per state (cells per mm³)", 672.5, 344],
    label: ["(ه)", 452, 324],
    legend: { x: 769.3, y: 372.3, dy: 12.2, l1: 775, l2: 806.7, size: 10 },
    series: [
      { name: "ACTIVE", data: activeE, color: COL.purple },
      { name: "DUPLICATING", data: duplicatingE, color: COL.green },
      { name: "RESTING", data: restingE, color: COL.blue, w: 1.3 },
      { name: "ANERGIC (y2)", data: anergicE, color: COL.orange, y2: true },
    ],
  },
  {
    box: [969, 361, 284, 235], tick: 10.7, xName: "days",
    yL: { min: 0, max: 12000, interval: 2000, margin: 7 },
    yR: { min: 0, max: 2000, interval: 200, name: "memory cells", gap: 46, margin: 9 },
    title: ["TH cell population (cells per mm³)", 1111, 342],
    label: ["(و)", 890, 324],
    legend: { x: 1201.7, y: 371.7, dy: 12.2, l1: 1208.3, l2: 1240, size: 10 },
    series: [
      { name: "Total", data: totalF, color: COL.black, w: 1.8 },
      { name: "TH not Mem", data: notMemF, color: COL.blue, w: 1.8 },
      { name: "TH Mem (y2)", data: memF, color: COL.mint, y2: true, w: 1.1 },
    ],
  },
  {
    box: [42, 682, 344, 232], tick: 10, xName: "days",
    yL: { min: 0, max: 250, interval: 50, margin: 7 },
    title: ["MA population per state (cells per mm³)", 214, 664],
    label: ["(ز)", 20, 626],
    legend: { x: 335, y: 692.3, dy: 12.3, l1: 342, l2: 372.3, size: 10 },
    series: [
      { name: "INTERNALIZED", data: internalizedG, color: COL.orange },
      { name: "PRESENTING-2", data: presentingG, color: COL.green },
      { name: "Total", data: totalG, color: COL.black },
      { name: "ACTIVE", data: activeG, color: COL.purple },
      { name: "RESTING", data: restingG, color: COL.blue },
    ],
  },
  {
    box: [495, 683, 343, 233], tick: 10.5, xName: "days",
    yL: { min: 0, max: 250, interval: 50, margin: 7 },
    title: ["DC population per state (cells per mm³)", 666.5, 665],
    label: ["(ح)", 440, 626],
    legend: { x: 787.7, y: 693.3, dy: 12.3, l1: 795, l2: 825, size: 10 },
    series: [
      { name: "INTERNALIZED", data: internalizedH, color: COL.orange },
      { name: "PRESENTING-1", data: presenting1H, color: COL.red },
      { name: "PRESENTING-2", data: presenting2H, color: COL.green },
      { name: "Total", data: totalH, color: COL.black },
      { name: "ACTIVE", data: activeH, color: COL.purple },
      { name: "RESTING", data: restingH, color: COL.blue },
    ],
  },
  {
    box: [959, 673, 318, 257], tick: 10, xName: "days",
    yL: { min: 0, max: 450000, interval: 50000, name: "ng/mL", gap: 56, margin: 7 },
    label: ["(ط)", 888, 626],
    legend: { x: 996.7, y: 684.3, dy: 12.3, l1: 1003.3, l2: 1034.3, size: 10 },
    series: [
      { name: "IFN-g", data: ifngI, color: COL.purple, w: 2 },
      { name: "IL-4", data: il4I, color: COL.green },
      { name: "IL-12", data: il12I, color: COL.blue, w: 1.8 },
      { name: "TGF-b", data: tgfbI, color: COL.orange, w: 1.8 },
      { name: "TNF-a", data: tnfaI, color: COL.red, w: 1.8 },
      { name: "IL-10", data: il10I, color: COL.dark, w: 1.4 },
      { name: "IL-6", data: il6I, color: COL.purple, w: 1.1 },
      { name: "IFN-b", data: ifnbI, color: COL.mint, w: 1.1 },
      { name: "IL-18", data: il18I, color: COL.lightblue, w: 1.1 },
      { name: "IL-23", data: il23I, color: COL.orange, w: 1.1 },
    ],
  },
  {
    box: [1103, 689, 165, 133], tick: 10,
    yL: { min: 0, max: 800000, interval: 100000, margin: 7 },
    legend: { x: 1134.3, y: 700, dy: 12.3, l1: 1141.7, l2: 1171, size: 10.5 },
    series: [
      { name: "D", data: dInset, color: COL.blue, w: 1.8 },
      { name: "IL-2", data: il2Inset, color: COL.orange, w: 1.8 },
    ],
  },
];

function buildOption() {
  const grid: any[] = [];
  const xAxis: any[] = [];
  const yAxis: any[] = [];
  const series: any[] = [];
  const elements: any[] = [];
  const fmt = (v: number) => String(v);
  const tick = { show: true, inside: true, length: 5, lineStyle: { color: AXIS, width: 1 } };
  const base = (gi: number, a: { min: number; max: number; interval: number }) => ({
    type: "value",
    gridIndex: gi,
    min: a.min,
    max: a.max,
    interval: a.interval,
    axisLine: { show: false },
    axisTick: tick,
    splitLine: { show: false },
  });
  const label = (p: Panel, margin: number) => ({
    show: true,
    fontSize: p.tick,
    fontFamily: FONT,
    color: TXT,
    margin,
    formatter: fmt,
    showMinLabel: true,
    showMaxLabel: true,
  });
  const nameStyle = { fontSize: 10.3, fontFamily: FONT, color: TXT, lineHeight: 12 };

  PANELS.forEach((p) => {
    const gi = grid.length;
    grid.push({
      left: p.box[0], top: p.box[1], width: p.box[2], height: p.box[3],
      show: true, borderColor: AXIS, borderWidth: 1, backgroundColor: "#ffffff",
    });
    const xAx = { min: 0, max: 350, interval: 50 };
    const xi = xAxis.length;
    xAxis.push({
      ...base(gi, xAx), position: "bottom", axisLabel: label(p, 7),
      name: p.xName || "", nameLocation: "middle", nameGap: 25,
      nameTextStyle: { ...nameStyle, fontSize: 10.5 },
    });
    xAxis.push({ ...base(gi, xAx), position: "top", axisLabel: { show: false } });
    const yi = yAxis.length;
    yAxis.push({
      ...base(gi, p.yL), position: "left", axisLabel: label(p, p.yL.margin ?? 7),
      name: p.yL.name || "", nameLocation: "middle", nameGap: p.yL.gap ?? 40, nameRotate: 90,
      nameTextStyle: nameStyle,
    });
    if (p.yR) {
      yAxis.push({
        ...base(gi, p.yR), position: "right", axisLabel: label(p, p.yR.margin ?? 10),
        name: p.yR.name || "", nameLocation: "middle", nameGap: p.yR.gap ?? 40, nameRotate: 90,
        nameTextStyle: nameStyle,
      });
    } else {
      yAxis.push({ ...base(gi, p.yL), position: "right", axisLabel: { show: false } });
    }
    p.series.forEach((s, i) => {
      series.push({
        type: "line",
        name: s.name,
        xAxisIndex: xi,
        yAxisIndex: s.y2 ? yi + 1 : yi,
        data: s.data,
        showSymbol: false,
        symbol: "none",
        silent: true,
        clip: true,
        lineStyle: { color: s.color, width: s.w ?? 1.6 },
        itemStyle: { color: s.color },
      });
      const y = p.legend.y + i * p.legend.dy;
      elements.push({
        type: "text", x: p.legend.x, y,
        style: { text: s.name, align: "right", verticalAlign: "middle", fontSize: p.legend.size, fontFamily: FONT, fill: TXT },
      });
      elements.push({
        type: "line",
        shape: { x1: p.legend.l1, y1: y, x2: p.legend.l2, y2: y },
        style: { stroke: s.color, lineWidth: s.w ?? 1.6 },
      });
    });
    if (p.title) {
      elements.push({
        type: "text", x: p.title[1], y: p.title[2],
        style: { text: p.title[0], align: "center", verticalAlign: "middle", fontSize: 9.8, fontFamily: FONT, fill: TXT },
      });
    }
    if (p.label) {
      elements.push({
        type: "text", x: p.label[1], y: p.label[2],
        style: {
          text: p.label[0], align: "left", verticalAlign: "top", fontSize: 23, lineHeight: 22,
          fontWeight: "bold", fontFamily: FONT, fill: "#111",
        },
      });
    }
  });

  return {
    animation: false,
    backgroundColor: "#ffffff",
    grid,
    xAxis,
    yAxis,
    series,
    graphic: { elements },
  };
}

export default function App() {
  const ref = useRef<HTMLDivElement>(null);
  useEffect(() => {
    if (!ref.current) return;
    const chart = echarts.init(ref.current, undefined, { renderer: "svg" });
    chart.setOption(buildOption() as any);
    return () => chart.dispose();
  }, []);
  return (
    <div
      ref={ref}
      style={{ position: "absolute", left: 0, top: 0, width: 1314, height: 966, background: "#ffffff" }}
    />
  );
}
